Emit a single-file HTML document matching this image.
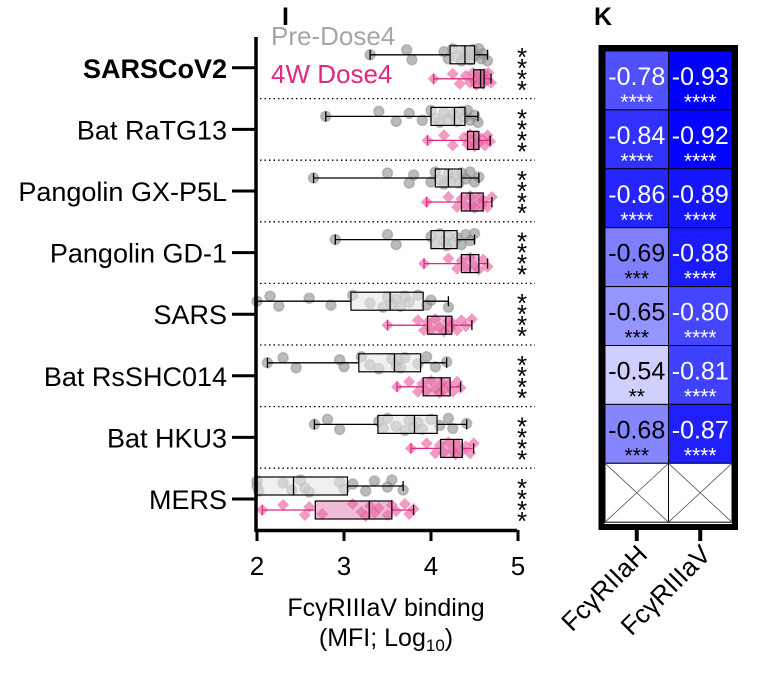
<!DOCTYPE html>
<html><head><meta charset="utf-8">
<style>
html,body{margin:0;padding:0;background:#fff;}
svg{display:block;font-family:"Liberation Sans",Arial,sans-serif;}
</style></head>
<body>
<svg id="chart" width="759" height="673" viewBox="0 0 759 673">
<text x="282" y="25" font-size="25" font-weight="bold">I</text>
<text x="594" y="25" font-size="25" font-weight="bold">K</text>
<g id="plotI"></g>
<g id="plotK"></g>
</svg>
<script>
const categories=["SARSCoV2","Bat RaTG13","Pangolin GX-P5L","Pangolin GD-1","SARS","Bat RsSHC014","Bat HKU3","MERS"];
// [min,q1,median,q3,max]
const preStats=[[3.30,4.22,4.39,4.50,4.65],[2.79,4.00,4.27,4.39,4.54],[2.65,4.05,4.20,4.35,4.55],[2.90,4.00,4.15,4.30,4.50],[2.00,3.08,3.53,3.91,4.20],[2.12,3.17,3.58,3.88,4.18],[2.66,3.39,3.81,4.07,4.41],[2.00,2.00,2.42,3.04,3.68]];
const postStats=[[4.03,4.49,4.57,4.61,4.69],[3.96,4.42,4.49,4.55,4.68],[3.95,4.35,4.45,4.60,4.70],[3.92,4.35,4.45,4.55,4.65],[3.50,3.96,4.17,4.24,4.47],[3.61,3.91,4.12,4.22,4.34],[3.77,4.11,4.26,4.36,4.49],[2.06,2.67,3.29,3.55,3.80]];
const prePoints=[
[3.30,3.72,3.78,4.15,4.2,4.25,4.3,4.35,4.38,4.4,4.42,4.45,4.48,4.5,4.55,4.58,4.6,4.65],
[2.79,3.4,3.6,3.75,3.9,4.0,4.05,4.1,4.15,4.2,4.25,4.3,4.35,4.38,4.42,4.45,4.5,4.54],
[2.65,3.5,3.75,3.8,4.0,4.05,4.1,4.15,4.2,4.22,4.28,4.32,4.35,4.4,4.45,4.5,4.55],
[2.9,3.5,3.6,4.0,4.05,4.1,4.15,4.18,4.2,4.25,4.3,4.35,4.4,4.45,4.5],
[2.0,2.15,2.25,2.6,2.85,3.1,3.3,3.45,3.5,3.55,3.6,3.65,3.7,3.75,3.85,3.95,4.0,4.2],
[2.12,2.3,2.45,2.95,3.0,3.2,3.3,3.4,3.55,3.6,3.62,3.65,3.7,3.85,3.95,4.05,4.18],
[2.66,2.81,2.95,3.4,3.45,3.5,3.6,3.7,3.75,3.8,3.85,3.9,4.0,4.1,4.2,4.25,4.41],
[2.0,2.0,2.02,2.3,2.4,2.5,2.55,2.6,2.95,3.0,3.1,3.25,3.35,3.5,3.55,3.68]];
const postPoints=[
[4.03,4.25,4.33,4.4,4.45,4.48,4.5,4.52,4.55,4.57,4.58,4.6,4.62,4.64,4.66,4.69],
[3.96,4.15,4.25,4.38,4.42,4.45,4.48,4.5,4.52,4.55,4.58,4.62,4.65,4.68],
[3.95,4.2,4.3,4.35,4.4,4.45,4.48,4.5,4.55,4.58,4.6,4.65,4.7],
[3.92,4.2,4.3,4.35,4.4,4.45,4.5,4.55,4.6,4.65],
[3.5,3.85,3.92,3.96,4.0,4.05,4.1,4.15,4.2,4.22,4.25,4.3,4.35,4.4,4.47],
[3.61,3.75,3.85,3.9,3.95,4.0,4.05,4.1,4.12,4.15,4.2,4.25,4.3,4.34],
[3.77,3.95,4.05,4.1,4.15,4.2,4.25,4.28,4.3,4.35,4.4,4.45,4.49],
[2.06,2.3,2.55,2.6,2.75,3.1,3.2,3.25,3.3,3.35,3.4,3.5,3.55,3.6,3.7,3.75,3.8]];
const xTicks=[2,3,4,5];
const sigLabels=["****","****","****","****","****","****","****","****"];
const heatCols=["FcγRIIaH","FcγRIIIaV"];
const heatH=[-0.78,-0.84,-0.86,-0.69,-0.65,-0.54,-0.68,null];
const heatV=[-0.93,-0.92,-0.89,-0.88,-0.80,-0.81,-0.87,null];
const sigH=["****","****","****","***","***","**","***",""];
const sigV=["****","****","****","****","****","****","****",""];

const NS="http://www.w3.org/2000/svg";
function mk(tag,attrs,parent,text){const e=document.createElementNS(NS,tag);for(const k in attrs)e.setAttribute(k,attrs[k]);if(text!==undefined)e.textContent=text;parent.appendChild(e);return e;}
const xS=v=>257+(v-2)*87;
const plotTop=37,rowH=61.6;
const rowC=i=>plotTop+rowH*(i+0.5);
const g=document.getElementById('plotI');
const PINK="#e0287f";
const jit=[0,-5,5,-3,4,-6,2,6,-4,3,-2,5,-5,1,-6,4,-1,6,-3];

for(let i=1;i<categories.length;i++){
  const l=mk('line',{x1:260,x2:535,y1:plotTop+rowH*i,y2:plotTop+rowH*i,stroke:'#000','stroke-width':1.3,'stroke-dasharray':'1.5,3'},g);
  
  
}
function drawBox(s,y,pts,pre,i){
  const grp=mk('g',{},g);
  
  
  pts.forEach((v,k)=>{
    const cy=y+jit[k%jit.length];
    if(pre){const c=mk('circle',{cx:xS(v),cy:cy,r:5,fill:'#8e8e8e','fill-opacity':0.6,stroke:'#8e8e8e','stroke-opacity':0.5,'stroke-width':1.5},grp);
      
      }
    else{const x=xS(v);const p=mk('path',{d:`M${x-6},${cy}L${x},${cy-6}L${x+6},${cy}L${x},${cy+6}Z`,fill:'#e8569a','fill-opacity':0.6},grp);
      
      }
  });
  const h=16;
  mk('line',{x1:xS(s[0]),x2:xS(s[1]),y1:y,y2:y,stroke:pre?'#000':PINK,'stroke-width':1.3},grp);
  mk('line',{x1:xS(s[3]),x2:xS(s[4]),y1:y,y2:y,stroke:pre?'#000':PINK,'stroke-width':1.3},grp);
  mk('line',{x1:xS(s[0]),x2:xS(s[0]),y1:y-5,y2:y+5,stroke:pre?'#000':PINK,'stroke-width':1.3},grp);
  mk('line',{x1:xS(s[4]),x2:xS(s[4]),y1:y-5,y2:y+5,stroke:'#000','stroke-width':1.3},grp);
  mk('rect',{x:xS(s[1]),y:y-h/2-1,width:Math.max(xS(s[3])-xS(s[1]),0.5),height:h+2,fill:pre?'#e6e6e6':'#e06aa6','fill-opacity':pre?0.6:0.45,stroke:'#000','stroke-width':1.2},grp);
  mk('line',{x1:xS(s[2]),x2:xS(s[2]),y1:y-h/2-1,y2:y+h/2+1,stroke:'#000','stroke-width':1.3},grp);
}
categories.forEach((c,i)=>{
  const yc=rowC(i);
  drawBox(preStats[i],yc-13,prePoints[i],true,i);
  drawBox(postStats[i],yc+11,postPoints[i],false,i);
  const lab=mk('text',{x:227,y:yc+10,'font-size':27,'text-anchor':'end','font-weight':i===0?'bold':'normal'},g,c);
  
  
  mk('line',{x1:232,x2:256,y1:yc,y2:yc,stroke:'#000','stroke-width':3},g);
  const st=mk('text',{x:522,y:yc,'font-size':26,'text-anchor':'middle'},g);
  
  
  sigLabels[i].split('').forEach((ch,k)=>{mk('tspan',{x:522,y:yc-2+k*11},st,ch);});
});
mk('line',{x1:256,x2:256,y1:plotTop,y2:532,stroke:'#000','stroke-width':3.5},g);
mk('line',{x1:255,x2:517,y1:530.5,y2:530.5,stroke:'#000','stroke-width':3.5},g);
xTicks.forEach(t=>{
  mk('line',{x1:xS(t),x2:xS(t),y1:530,y2:541,stroke:'#000','stroke-width':3},g);
  const tl=mk('text',{x:xS(t),y:575,'font-size':26,'text-anchor':'middle'},g,String(t));
  
  
});
const xt=mk('text',{x:386,y:616,'font-size':25,'text-anchor':'middle'},g,'FcγRIIIaV binding');


const xt2=mk('text',{x:386,y:646,'font-size':25,'text-anchor':'middle'},g);


mk('tspan',{},xt2,'(MFI; Log');mk('tspan',{'font-size':17,dy:5},xt2,'10');mk('tspan',{dy:-5},xt2,')');
const l1=mk('text',{x:271,y:45,'font-size':26,fill:'#a6a6a6'},g,'Pre-Dose4');


const l2=mk('text',{x:271,y:83,'font-size':26,fill:PINK},g,'4W Dose4');



const k=document.getElementById('plotK');
const hx0=605,cw=63.5,hy0=51,ch=58.9;
const colr=v=>{const l=Math.max(0,Math.min(230,Math.round((v+0.93)*533)));return `rgb(${l},${l},255)`;};
[heatH,heatV].forEach((arr,c)=>{
  const sig=c===0?sigH:sigV;
  arr.forEach((v,r)=>{
    const x=hx0+c*cw,y=hy0+r*ch;
    const cell=mk('rect',{x:x,y:y,width:cw,height:ch,fill:v===null?'#fff':colr(v),stroke:'#000','stroke-width':1},k);
    
    
    if(v===null){mk('line',{x1:x,y1:y,x2:x+cw,y2:y+ch,stroke:'#555','stroke-width':0.8},k);mk('line',{x1:x+cw,y1:y,x2:x,y2:y+ch,stroke:'#555','stroke-width':0.8},k);return;}
    const fc=v>-0.75?'#000':'#fff';
    const t=mk('text',{x:x+cw/2,y:y+34,'font-size':25,'text-anchor':'middle',fill:fc},k,v.toFixed(2));
    
    
    const s=mk('text',{x:x+cw/2,y:y+58,'font-size':21,'text-anchor':'middle',fill:fc},k,sig[r]);
    
    
  });
});
mk('rect',{x:601.5,y:48,width:133.5,height:479,fill:'none',stroke:'#000','stroke-width':6},k);
heatCols.forEach((c,i)=>{
  const cx=hx0+cw*(i+0.5);
  mk('line',{x1:cx,x2:cx,y1:530,y2:541,stroke:'#000','stroke-width':4},k);
  const t=mk('text',{x:0,y:0,'font-size':26,'text-anchor':'end',transform:`translate(${cx+12},${556}) rotate(-45)`},k,c);
  
  
});
</script>
</body></html>
